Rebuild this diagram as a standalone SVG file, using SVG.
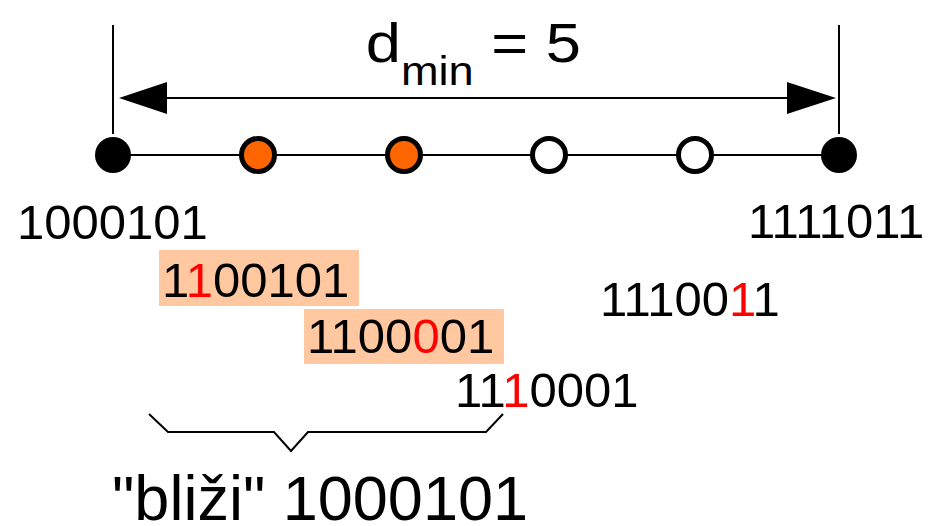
<svg xmlns="http://www.w3.org/2000/svg" width="930" height="526" viewBox="0 0 930 526">
<style>
.t{font-family:"Liberation Sans",Arial,sans-serif;fill:#000}
.n{font-size:49px}
.r{fill:#FF0000}
.ln{stroke:#000;stroke-width:2;fill:none}
.dot{stroke:#000;stroke-width:5}
.box{fill:#FFC8A0}
</style>
<rect width="930" height="526" fill="#fff"/>
<g id="connectors">
<line class="ln" x1="113" y1="25" x2="113" y2="134"/>
<line class="ln" x1="839" y1="25" x2="839" y2="134"/>
<line class="ln" x1="160" y1="98" x2="795" y2="98"/>
<polygon points="119,98 167,82 167,114" fill="#000"/>
<polygon points="836,98 787,82 787,114" fill="#000"/>
<line class="ln" x1="113" y1="155" x2="839" y2="155"/>
<polyline class="ln" stroke-width="1.5" points="149,414 168,432 274,432 291,451 308,432 486,432 503,414"/>
</g>
<g id="title" transform="translate(368,0) scale(1.13,1) translate(-368,0)"><text class="t" x="366" y="62" font-size="56">d<tspan font-size="40" y="85">min</tspan><tspan y="62"> = 5</tspan></text></g>
<g id="n1"><circle cx="113" cy="155" r="18" fill="#000"/></g>
<g id="n2"><circle class="dot" cx="258" cy="155" r="16.5" fill="#FF6600"/></g>
<g id="n3"><circle class="dot" cx="404" cy="155" r="16.5" fill="#FF6600"/></g>
<g id="n4"><circle class="dot" cx="549" cy="155" r="16.5" fill="#fff"/></g>
<g id="n5"><circle class="dot" cx="695" cy="155" r="16.5" fill="#fff"/></g>
<g id="n6"><circle cx="839" cy="155" r="18" fill="#000"/></g>
<g id="l1"><text class="t n" x="17" y="239">1000101</text></g>
<g id="l2"><text class="t n" x="748" y="238">1111011</text></g>
<g id="l3"><rect class="box" x="159" y="250" width="200" height="56"/><text class="t n" x="162" y="297">1<tspan class="r">1</tspan>00101</text></g>
<g id="l4"><rect class="box" x="304" y="309" width="200" height="55"/><text class="t n" x="307" y="353">1100<tspan class="r">0</tspan>01</text></g>
<g id="l5"><text class="t n" x="600" y="316">11100<tspan class="r">1</tspan>1</text></g>
<g id="l6"><text class="t n" x="455" y="407">11<tspan class="r">1</tspan>0001</text></g>
<g id="l7"><text class="t" x="112" y="520" font-size="63">"bliži" 1000101</text></g>
</svg>
